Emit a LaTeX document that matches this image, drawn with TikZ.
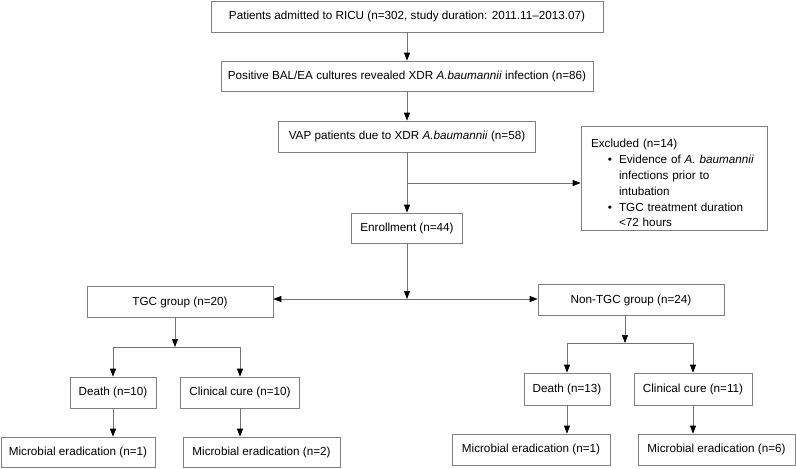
\documentclass[tikz,border=0pt]{standalone}
\usepackage{fontspec}
\setmainfont{Liberation Sans}
\usetikzlibrary{arrows.meta}
\begin{document}
\begin{tikzpicture}[x=1pt,y=-1pt,
  box/.style={draw=black!50, line width=0.7pt, rectangle, inner sep=0pt,
    font=\fontsize{11.7}{14}\selectfont, align=center},
  conn/.style={draw=black!55, line width=0.7pt},
  arr/.style={conn, -{Triangle[length=8pt,width=6pt,color=black]}}]
\useasboundingbox (0,0) rectangle (796,469);
% main column
\node[box, minimum width=392pt, minimum height=31pt] (top) at (407,16.5)
  {Patients admitted to RICU (n=302, study duration: 2011.11–2013.07)};
\node[box, minimum width=372pt, minimum height=30pt] (pos) at (407,76)
  {Positive BAL/EA cultures revealed XDR \textit{A.baumannii} infection (n=86)};
\node[box, minimum width=257pt, minimum height=31pt] (vap) at (407,136.5)
  {VAP patients due to XDR \textit{A.baumannii} (n=58)};
\node[box, minimum width=111pt, minimum height=30pt] (enr) at (407,228)
  {Enrollment (n=44)};
\node[box, minimum width=186pt, minimum height=104pt, text width=166pt,
  inner xsep=10pt, align=left, font=\fontsize{11.7}{15.8}\selectfont] (exc) at (674,178)
  {\rule{0pt}{19pt}Excluded (n=14)\\
   \makebox[28pt][r]{\textbullet\hspace{7pt}}Evidence of \textit{A. baumannii}\\
   \hspace*{28pt}infections prior to\\
   \hspace*{28pt}intubation\\
   \makebox[28pt][r]{\textbullet\hspace{7pt}}TGC treatment duration\\
   \hspace*{28pt}<72 hours};
% groups
\node[box, minimum width=186pt, minimum height=31pt] (tgc) at (180,302)
  {TGC group (n=20)};
\node[box, minimum width=186pt, minimum height=31pt] (ntgc) at (631,300)
  {Non-TGC group (n=24)};
% TGC branch
\node[box, minimum width=86pt, minimum height=31pt] (d10) at (113,392.5)
  {Death (n=10)};
\node[box, minimum width=119pt, minimum height=31pt] (c10) at (240,392.5)
  {Clinical cure (n=10)};
\node[box, minimum width=154pt, minimum height=30pt] (m1) at (78,452)
  {Microbial eradication (n=1)};
\node[box, minimum width=157pt, minimum height=30pt] (m2) at (261.5,452)
  {Microbial eradication (n=2)};
% Non-TGC branch
\node[box, minimum width=86pt, minimum height=32pt] (d13) at (567,389)
  {Death (n=13)};
\node[box, minimum width=118pt, minimum height=32pt] (c11) at (693,389)
  {Clinical cure (n=11)};
\node[box, minimum width=158pt, minimum height=31pt] (m1r) at (531,449.5)
  {Microbial eradication (n=1)};
\node[box, minimum width=157pt, minimum height=31pt] (m6) at (716.5,449.5)
  {Microbial eradication (n=6)};
% coordinates
\coordinate (ex) at (407,183);
\coordinate (split) at (407,299);
\coordinate (bl) at (175,347);
\coordinate (br) at (625,343);
% connectors
\draw[arr] (top) -- (pos);
\draw[arr] (pos) -- (vap);
\draw[arr] (vap) -- (enr);
\draw[arr] (ex) -- (exc.west |- ex);
\draw[arr] (enr) -- (split);
\draw[arr] (split) -- (split -| tgc.east);
\draw[arr] (split) -- (split -| ntgc.west);
\draw[arr] (tgc.south -| bl) -- (bl);
\draw[arr] (bl) -| (d10.north);
\draw[arr] (bl) -| (c10.north);
\draw[arr] (d10) -- (d10.south |- m1.north);
\draw[arr] (c10) -- (c10.south |- m2.north);
\draw[arr] (ntgc.south -| br) -- (br);
\draw[arr] (br) -| (d13.north);
\draw[arr] (br) -| (c11.north);
\draw[arr] (d13) -- (d13.south |- m1r.north);
\draw[arr] (c11) -- (c11.south |- m6.north);
\end{tikzpicture}
\end{document}
